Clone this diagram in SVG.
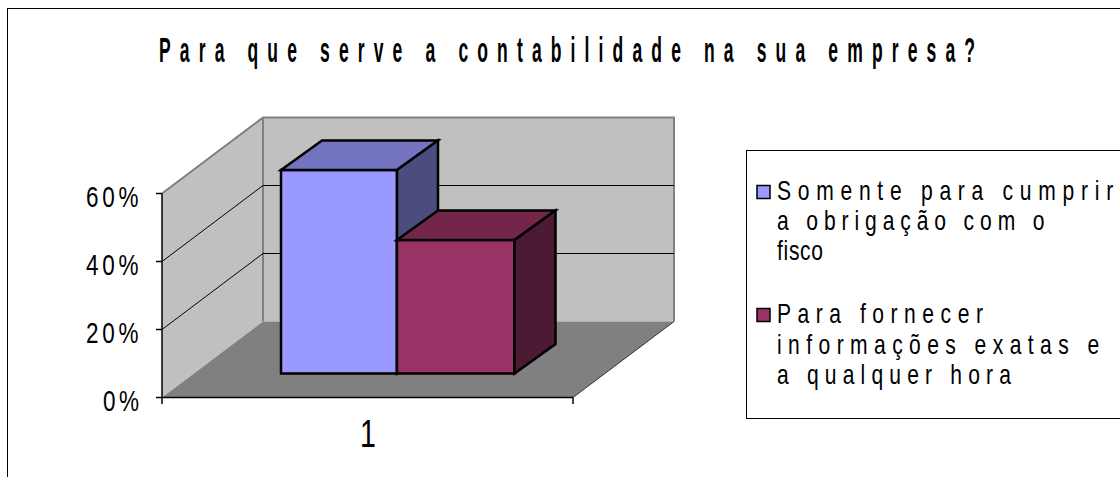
<svg xmlns="http://www.w3.org/2000/svg" width="1120" height="477" viewBox="0 0 1120 477">
<style>
.t{font-family:"Liberation Sans",Arial,sans-serif;fill:#000}
.ttl{font-size:35px;font-weight:bold}
.ax{font-size:30px}
.lg{font-size:27px}
.wall{fill:#C0C0C0;stroke:none}
.edge{fill:none;stroke:#808080;stroke-width:2}
.grid{stroke:#000;stroke-width:1;fill:none}
.axis{stroke:#000;stroke-width:1.5;fill:none}
.bar{stroke:#000;stroke-width:2.5;stroke-linejoin:miter}
</style>
<rect id="frame" x="7.5" y="8.5" width="1200" height="600" fill="#FFFFFF" stroke="#000" stroke-width="1"/>
<text id="title" class="t ttl" transform="translate(159,62) scale(0.5,1)" textLength="1632" lengthAdjust="spacing">Para que serve a contabilidade na sua empresa?</text>
<g id="plot">
<polygon class="wall" points="162,193.5 263,117.5 263,321.5 162,397.5"/>
<rect class="wall" x="263" y="117.5" width="411" height="204"/>
<polygon fill="#808080" points="162,397.5 263,321.5 674,321.5 573,397.5"/>
<polyline class="edge" points="162,193.5 263,117.5 674,117.5 674,321.5"/>
<line class="edge" x1="263" y1="117.5" x2="263" y2="321.5"/>
<line x1="674" y1="321.5" x2="573" y2="397.5" stroke="#333" stroke-width="1"/>
<g class="grid">
<line x1="263" y1="185.5" x2="674" y2="185.5"/>
<line x1="263" y1="253.5" x2="674" y2="253.5"/>
<line x1="162" y1="261.5" x2="263" y2="185.5"/>
<line x1="162" y1="329.5" x2="263" y2="253.5"/>
</g>
</g>
<g id="connectors">
<line class="axis" x1="162" y1="193.5" x2="162" y2="404" stroke="#404040"/>
<line class="axis" x1="162" y1="397.5" x2="573" y2="397.5"/>
<line class="axis" x1="573" y1="397.5" x2="573" y2="404"/>
<line class="axis" x1="156" y1="193.5" x2="162" y2="193.5"/>
<line class="axis" x1="156" y1="261.5" x2="162" y2="261.5"/>
<line class="axis" x1="156" y1="329.5" x2="162" y2="329.5"/>
<line class="axis" x1="156" y1="397.5" x2="162" y2="397.5"/>
</g>
<g id="axis-labels">
<text class="t ax" transform="translate(86,207) scale(0.75,1)" textLength="70" lengthAdjust="spacing">60%</text>
<text class="t ax" transform="translate(86,275) scale(0.75,1)" textLength="70" lengthAdjust="spacing">40%</text>
<text class="t ax" transform="translate(86,343) scale(0.75,1)" textLength="70" lengthAdjust="spacing">20%</text>
<text class="t ax" transform="translate(103,411) scale(0.75,1)" textLength="48" lengthAdjust="spacing">0%</text>
<text class="t" font-size="38" transform="translate(360,447) scale(0.75,1)">1</text>
</g>
<g id="bar-1">
<polygon class="bar" fill="#9999FF" points="281,170 397,170 397,373.5 281,373.5"/>
<polygon class="bar" fill="#7373BF" points="281,170 322,140.5 438,140.5 397,170"/>
<polygon class="bar" fill="#4C4C7F" points="397,170 438,140.5 438,344 397,373.5"/>
</g>
<g id="bar-2">
<polygon class="bar" fill="#993366" points="397,240 514.5,240 514.5,373.5 397,373.5"/>
<polygon class="bar" fill="#732649" points="397,240 438,210.5 555.5,210.5 514.5,240"/>
<polygon class="bar" fill="#4D1A33" points="514.5,240 555.5,210.5 555.5,344 514.5,373.5"/>
</g>
<g id="legend">
<rect x="746.5" y="150.5" width="400" height="268" fill="#FFFFFF" stroke="#000" stroke-width="1"/>
<rect x="757" y="185.5" width="13" height="13" fill="#9999FF" stroke="#000" stroke-width="1.5"/>
<rect x="757" y="308.5" width="13" height="13" fill="#993366" stroke="#000" stroke-width="1.5"/>
<text class="t lg" transform="translate(777,199.5) scale(0.78,1)" textLength="431" lengthAdjust="spacing">Somente para cumprir</text>
<text class="t lg" transform="translate(777,229.5) scale(0.78,1)" textLength="343" lengthAdjust="spacing">a obrigação com o</text>
<text class="t lg" transform="translate(777,260) scale(0.78,1)" textLength="59" lengthAdjust="spacing">fisco</text>
<text class="t lg" transform="translate(777,323) scale(0.78,1)" textLength="264" lengthAdjust="spacing">Para fornecer</text>
<text class="t lg" transform="translate(777,353.5) scale(0.78,1)" textLength="413" lengthAdjust="spacing">informações exatas e</text>
<text class="t lg" transform="translate(777,384) scale(0.78,1)" textLength="300" lengthAdjust="spacing">a qualquer hora</text>
</g>
</svg>
